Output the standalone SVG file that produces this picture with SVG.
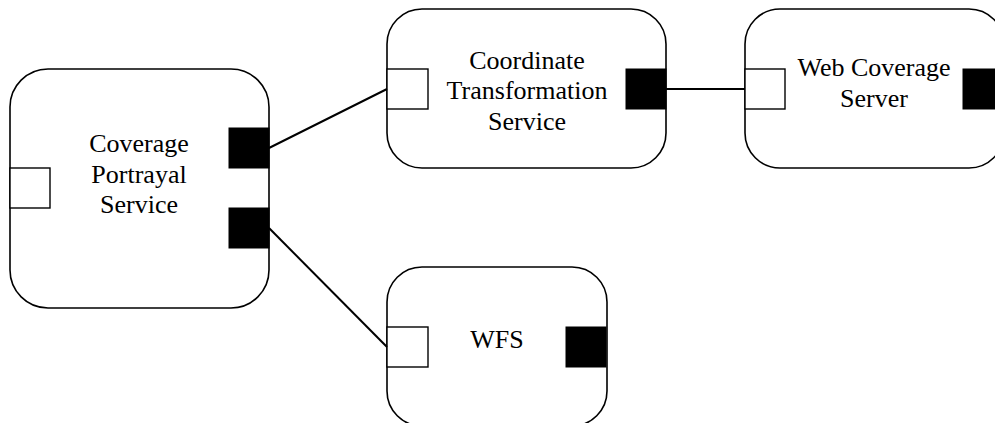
<svg xmlns="http://www.w3.org/2000/svg" width="995" height="423" viewBox="0 0 995 423">
<style>
.box{fill:#fff;stroke:#000;stroke-width:1.6}
.in{fill:#fff;stroke:#000;stroke-width:1.4}
.out{fill:#000;stroke:#000;stroke-width:1}
.lbl{font-size:26px;fill:#000;text-anchor:middle}
.conn{stroke:#000;stroke-width:2;fill:none}
</style>
<rect width="995" height="423" fill="#fff"/>
<g id="cps" font-family="Liberation Serif, DejaVu Serif, serif">
<rect class="box" x="10" y="69" width="259" height="239" rx="38"/>
<rect class="in" x="10" y="168" width="40" height="40"/>
<rect class="out" x="229" y="128" width="40" height="40"/>
<rect class="out" x="229" y="208" width="40" height="40"/>
<text class="lbl" x="139" y="152">Coverage</text>
<text class="lbl" x="139" y="183">Portrayal</text>
<text class="lbl" x="139" y="213">Service</text>
</g>
<g id="cts" font-family="Liberation Serif, DejaVu Serif, serif">
<rect class="box" x="387" y="9" width="279" height="159" rx="35"/>
<rect class="in" x="387" y="69" width="41" height="40"/>
<rect class="out" x="626" y="69" width="40" height="40"/>
<text class="lbl" x="527" y="69">Coordinate</text>
<text class="lbl" x="527" y="99">Transformation</text>
<text class="lbl" x="527" y="130">Service</text>
</g>
<g id="wcs" font-family="Liberation Serif, DejaVu Serif, serif">
<rect class="box" x="745" y="9" width="259" height="159" rx="35"/>
<rect class="in" x="745" y="69" width="40" height="40"/>
<rect class="out" x="963" y="69" width="40" height="40"/>
<text class="lbl" x="874" y="76">Web Coverage</text>
<text class="lbl" x="874" y="107">Server</text>
</g>
<g id="wfs" font-family="Liberation Serif, DejaVu Serif, serif">
<rect class="box" x="387" y="267" width="220" height="159" rx="35"/>
<rect class="in" x="387" y="327" width="41" height="40"/>
<rect class="out" x="566" y="327" width="40" height="40"/>
<text class="lbl" x="497" y="348">WFS</text>
</g>
<g id="connectors">
<line class="conn" x1="269" y1="148" x2="387" y2="89"/>
<line class="conn" x1="666" y1="89" x2="745" y2="89"/>
<line class="conn" x1="269" y1="228" x2="387" y2="347"/>
</g>
</svg>
